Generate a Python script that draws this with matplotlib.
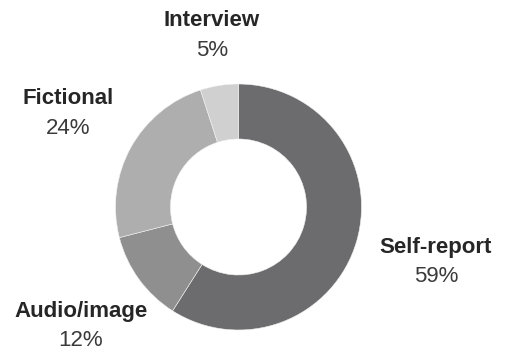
import matplotlib
matplotlib.use("Agg")
import matplotlib.pyplot as plt

categories = ["Self-report", "Audio/image", "Fictional", "Interview"]
shares = [59, 12, 24, 5]
colors = ["#6c6c6e", "#8f8f8f", "#aeaeae", "#d0d0d0"]

W, H = 506, 358
fig = plt.figure(figsize=(W / 100, H / 100), dpi=100)
ax = fig.add_axes([0, 0, 1, 1])

cx, cy, r_out, r_in = 238.5, H - 207, 123, 68
ax.pie(shares, colors=colors, startangle=90, counterclock=False,
       center=(cx, cy), radius=r_out, frame=True,
       wedgeprops=dict(width=r_out - r_in, edgecolor="#f2f2f2", linewidth=0.4))
ax.set_xlim(0, W)
ax.set_ylim(0, H)
ax.set_aspect("equal")
ax.axis("off")

# label anchor points (name line, value line)
label_pos = {
    "Self-report": (436, 247, 276),
    "Audio/image": (81, 312, 341),
    "Fictional": (68, 99, 129),
    "Interview": (212, 20, 51),
}
font = "Liberation Sans"
for name, val in zip(categories, shares):
    x, y1, y2 = label_pos[name]
    ax.text(x, H - y1, name, ha="center", va="center", fontsize=16,
            fontweight="bold", family=font, color="#262626")
    ax.text(x, H - y2, f"{val}%", ha="center", va="center", fontsize=16,
            family=font, color="#3a3a3a")

fig.savefig("out.png", dpi=100)
